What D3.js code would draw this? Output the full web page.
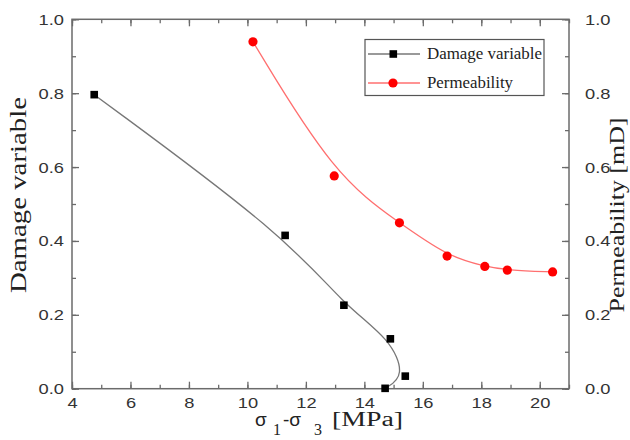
<!DOCTYPE html>
<html><head><meta charset="utf-8">
<script src="https://cdn.jsdelivr.net/npm/d3@7"></script>
<style>body{margin:0;background:#fff}svg{display:block}</style>
</head><body>
<svg id="c" width="630" height="440"></svg>
<script>
const damageX = [4.76, 11.29, 13.3, 14.89, 15.4, 14.71];
const damageY = [0.796, 0.415, 0.226, 0.135, 0.034, 0.001];
const permX = [10.19, 12.97, 15.2, 16.83, 18.12, 18.89, 20.44];
const permY = [0.939, 0.576, 0.449, 0.359, 0.331, 0.321, 0.316];
const xTicks = [4, 6, 8, 10, 12, 14, 16, 18, 20];
const yTicks = [0, 0.2, 0.4, 0.6, 0.8, 1.0];
const seriesNames = ["Damage variable", "Permeability"];

const L = 72, R = 569, T = 19.3, B = 388.7;
const svg = d3.select("#c");
const x = d3.scaleLinear().domain([4, 21]).range([L, R]);
const yL = d3.scaleLinear().domain([0, 1]).range([B, T]);
const yR = d3.scaleLinear().domain([0, 1]).range([B, T]);
const axisCol = "#6b6b6b";
const sans = "'Liberation Sans', Arial, sans-serif";
const serif = "'Liberation Serif', 'Times New Roman', serif";

function stretch(sel, k) {
  sel.each(function () { const w = this.getComputedTextLength(); d3.select(this).attr("textLength", w * k).attr("lengthAdjust", "spacingAndGlyphs"); });
}
function styleAxis(g) {
  g.select(".domain").remove();
  g.selectAll("line").attr("stroke", axisCol).attr("stroke-width", 1.3);
  g.selectAll("text").attr("font-family", sans).attr("font-size", 15.5).attr("fill", "#333");
  stretch(g.selectAll("text"), 1.18);
}
const xMinor = d3.range(4, 21.01, 1);
const yMinor = d3.range(0, 1.001, 0.1);

// minor ticks
svg.append("g").attr("transform", `translate(0,${B})`).call(d3.axisBottom(x).tickValues(xMinor).tickSize(-4).tickFormat("")).call(styleAxis);
svg.append("g").attr("transform", `translate(0,${T})`).call(d3.axisTop(x).tickValues(xMinor).tickSize(-4).tickFormat("")).call(styleAxis);
svg.append("g").attr("transform", `translate(${L},0)`).call(d3.axisLeft(yL).tickValues(yMinor).tickSize(-4).tickFormat("")).call(styleAxis);
svg.append("g").attr("transform", `translate(${R},0)`).call(d3.axisRight(yR).tickValues(yMinor).tickSize(-4).tickFormat("")).call(styleAxis);
// major ticks
svg.append("g").attr("transform", `translate(0,${B})`).call(d3.axisBottom(x).tickValues(xTicks).tickSize(-7).tickPadding(8).tickFormat(d3.format("d"))).call(styleAxis);
svg.append("g").attr("transform", `translate(0,${T})`).call(d3.axisTop(x).tickValues(xTicks).tickSize(-7).tickFormat("")).call(styleAxis);
svg.append("g").attr("transform", `translate(${L},0)`).call(d3.axisLeft(yL).tickValues(yTicks).tickSize(-7).tickPadding(8).tickFormat(d3.format(".1f"))).call(styleAxis);
svg.append("g").attr("transform", `translate(${R},0)`).call(d3.axisRight(yR).tickValues(yTicks).tickSize(-7).tickPadding(16).tickFormat(d3.format(".1f"))).call(styleAxis);

// frame
svg.append("rect").attr("x", L).attr("y", T).attr("width", R - L).attr("height", B - T)
  .attr("fill", "none").attr("stroke", axisCol).attr("stroke-width", 1.5);

// curves (B-spline, as in the original)
const dmg = damageX.map((d, i) => [d, damageY[i]]);
const prm = permX.map((d, i) => [d, permY[i]]);
const lineL = d3.line().x(d => x(d[0])).y(d => yL(d[1])).curve(d3.curveBasis);
const lineR = d3.line().x(d => x(d[0])).y(d => yR(d[1])).curve(d3.curveBasis);
svg.append("path").attr("d", lineL(dmg)).attr("fill", "none").attr("stroke", "#777").attr("stroke-width", 1.3);
svg.append("path").attr("d", lineR(prm)).attr("fill", "none").attr("stroke", "#ff6f6f").attr("stroke-width", 1.3);

svg.append("g").selectAll("rect").data(dmg).join("rect")
  .attr("x", d => x(d[0]) - 3.8).attr("y", d => yL(d[1]) - 3.8).attr("width", 7.6).attr("height", 7.6).attr("fill", "#000");
svg.append("g").selectAll("circle").data(prm).join("circle")
  .attr("cx", d => x(d[0])).attr("cy", d => yR(d[1])).attr("r", 4.6).attr("fill", "#ff0000");

// legend
const lg = svg.append("g");
lg.append("rect").attr("x", 365).attr("y", 39.5).attr("width", 179).attr("height", 56).attr("fill", "#fff").attr("stroke", "#555").attr("stroke-width", 1.2);
const rows = [{y: 54, c: "#777", m: "sq", w: 115}, {y: 83, c: "#ff6f6f", m: "ci", w: 86}];
rows.forEach((r, i) => {
  lg.append("line").attr("x1", 368).attr("x2", 420).attr("y1", r.y).attr("y2", r.y).attr("stroke", r.c).attr("stroke-width", 1.3);
  if (r.m === "sq") lg.append("rect").attr("x", 389.5).attr("y", r.y - 3.8).attr("width", 7.6).attr("height", 7.6).attr("fill", "#000");
  else lg.append("circle").attr("cx", 393).attr("cy", r.y).attr("r", 4.6).attr("fill", "#ff0000");
  lg.append("text").attr("x", 427).attr("y", r.y + 5).attr("font-family", serif).attr("font-size", 16).attr("fill", "#222")
    .attr("textLength", r.w).attr("lengthAdjust", "spacingAndGlyphs").text(seriesNames[i]);
});

// axis titles
svg.append("text").attr("transform", "translate(26,195) rotate(-90)").attr("text-anchor", "middle")
  .attr("font-family", serif).attr("font-size", 23).attr("fill", "#222")
  .attr("textLength", 196).attr("lengthAdjust", "spacingAndGlyphs").text("Damage variable");
svg.append("text").attr("transform", "translate(624,215) rotate(-90)").attr("text-anchor", "middle")
  .attr("font-family", serif).attr("font-size", 22).attr("fill", "#222")
  .attr("textLength", 195).attr("lengthAdjust", "spacingAndGlyphs").text("Permeability [mD]");
const xt = svg.append("text").attr("y", 426).attr("font-family", serif).attr("font-size", 20).attr("fill", "#222");
xt.append("tspan").attr("x", 255).attr("font-family", sans).attr("font-size", 19).text("σ");
xt.append("tspan").attr("x", 273).attr("y", 435).attr("font-size", 16).text("1");
xt.append("tspan").attr("x", 283).attr("y", 426).attr("font-family", sans).attr("font-size", 19).text("-σ");
xt.append("tspan").attr("x", 314).attr("y", 435).attr("font-size", 16).text("3");
xt.append("tspan").attr("x", 332).attr("y", 426).attr("textLength", 71).attr("lengthAdjust", "spacingAndGlyphs").text("[MPa]");
</script>
</body></html>
